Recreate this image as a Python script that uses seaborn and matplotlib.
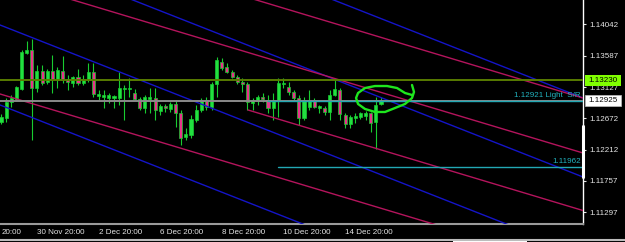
import numpy as np
import pandas as pd
import matplotlib
matplotlib.use("Agg")
import matplotlib.pyplot as plt
import matplotlib.transforms as mtransforms
from matplotlib.patches import Rectangle
from matplotlib.lines import Line2D
import seaborn as sns

# ---------------- data ----------------
opens = [1.12618, 1.12676, 1.12910, 1.12939, 1.13100, 1.13625, 1.13669, 1.13114, 1.13362, 1.13202,
         1.13362, 1.13231, 1.13362, 1.13246, 1.13187, 1.13275, 1.13187, 1.13231, 1.13348, 1.12997,
         1.12983, 1.12968, 1.12968, 1.12968, 1.13100, 1.13100, 1.13041, 1.12954, 1.12822, 1.12954,
         1.12968, 1.12778, 1.12851, 1.12808, 1.12881, 1.12749, 1.12399, 1.12428, 1.12647, 1.12793,
         1.12939, 1.12837, 1.13173, 1.13494, 1.13421, 1.13348, 1.13275, 1.13202, 1.13173, 1.12895,
         1.12924, 1.12983, 1.12939, 1.12822, 1.12924, 1.13173, 1.13129, 1.13056, 1.12968, 1.12676,
         1.12837, 1.12939, 1.12822, 1.12822, 1.12764, 1.13012, 1.13085, 1.12720, 1.12589, 1.12676,
         1.12691, 1.12705, 1.12749, 1.12618, 1.12881]
highs = [1.12735, 1.12968, 1.13012, 1.13143, 1.13669, 1.13800, 1.13830, 1.13450, 1.13450, 1.13392,
         1.13596, 1.13421, 1.13581, 1.13304, 1.13289, 1.13392, 1.13304, 1.13479, 1.13479, 1.13085,
         1.13085, 1.13041, 1.13012, 1.13348, 1.13158, 1.13260, 1.13100, 1.12983, 1.13012, 1.13114,
         1.13114, 1.12881, 1.12881, 1.12910, 1.12939, 1.12793, 1.12530, 1.12720, 1.12866, 1.12968,
         1.12983, 1.13202, 1.13567, 1.13552, 1.13479, 1.13377, 1.13304, 1.13260, 1.13202, 1.12968,
         1.13012, 1.13041, 1.13012, 1.13041, 1.13260, 1.13260, 1.13202, 1.13085, 1.13012, 1.12983,
         1.13085, 1.12968, 1.12866, 1.12851, 1.13085, 1.13260, 1.13114, 1.12749, 1.12720, 1.12749,
         1.12764, 1.12778, 1.12764, 1.12983, 1.12983]
lows = [1.12589, 1.12618, 1.12837, 1.12924, 1.13085, 1.13611, 1.12355, 1.13056, 1.13158, 1.13173,
        1.13041, 1.13114, 1.13187, 1.13085, 1.13129, 1.13158, 1.13158, 1.13202, 1.12983, 1.12939,
        1.12822, 1.12895, 1.12822, 1.12866, 1.12647, 1.12983, 1.12939, 1.12793, 1.12749, 1.12749,
        1.12647, 1.12720, 1.12764, 1.12764, 1.12545, 1.12282, 1.12355, 1.12384, 1.12618, 1.12764,
        1.12793, 1.12793, 1.12983, 1.13377, 1.13333, 1.13260, 1.13173, 1.13056, 1.12793, 1.12793,
        1.12866, 1.12910, 1.12749, 1.12647, 1.12691, 1.13114, 1.13012, 1.12939, 1.12574, 1.12647,
        1.12793, 1.12822, 1.12749, 1.12720, 1.12647, 1.12997, 1.12647, 1.12530, 1.12530, 1.12603,
        1.12662, 1.12647, 1.12472, 1.12224, 1.12866]
closes = [1.12691, 1.12910, 1.12968, 1.13129, 1.13640, 1.13669, 1.13114, 1.13362, 1.13187, 1.13362,
          1.13246, 1.13377, 1.13231, 1.13202, 1.13275, 1.13187, 1.13246, 1.13348, 1.13027, 1.13027,
          1.13012, 1.13012, 1.12997, 1.13114, 1.13114, 1.13114, 1.12954, 1.12822, 1.12983, 1.12983,
          1.12793, 1.12851, 1.12822, 1.12881, 1.12749, 1.12384, 1.12443, 1.12662, 1.12793, 1.12939,
          1.12837, 1.13173, 1.13523, 1.13406, 1.13348, 1.13275, 1.13202, 1.13173, 1.12910, 1.12939,
          1.12983, 1.12954, 1.12822, 1.12939, 1.13187, 1.13187, 1.13056, 1.12968, 1.12676, 1.12939,
          1.12939, 1.12837, 1.12851, 1.12764, 1.13012, 1.13100, 1.12735, 1.12589, 1.12691, 1.12705,
          1.12749, 1.12749, 1.12603, 1.12866, 1.12924]

xtick_idx = [7, 19, 31, 43, 55, 67]
xtick_labels = ["30 Nov 20:00", "2 Dec 20:00", "6 Dec 20:00", "8 Dec 20:00",
                "10 Dec 20:00", "14 Dec 20:00"]
first_label = "20:00"
first_label_idx = 0.2
ytick_vals = [1.14042, 1.13587, 1.13127, 1.12672, 1.12212, 1.11757, 1.11297]

# trend channel lines (bar index, price)
chan_names = ["B", "A", "D", "C", "F", "E", "H", "G"]
chan_kind = ["blue", "blue", "blue", "blue", "crimson", "crimson", "crimson", "crimson"]
chan_x0 = [-1, -1, -1, -1, -1, -1, 48.1, -1]
chan_y0 = [1.16338, 1.15185, 1.14058, 1.12890, 1.15540, 1.14737, 1.12793, 1.13045]
chan_x1 = [115, 115, 115, 115, 115, 115, 115, 115]
chan_y1 = [1.12919, 1.11766, 1.10640, 1.09472, 1.12931, 1.12128, 1.11288, 1.10436]

# horizontal levels
level_price = [1.13230, 1.12925, 1.12921, 1.11962]
level_start = [-1, -1, 52, 54]
level_color = ["#587c00", "#8a8a8a", "#22a8b4", "#22a8b4"]
level_lw = [1.4, 1.4, 1.0, 1.0]

sr_label = "1.12921 Light  S/R"
sr2_label = "1.11962"
olive_box = "1.13230"
bid_box = "1.12925"

# hand drawn highlight loop (bar index, price)
loop_x = [80.04, 80.43, 80.04, 78.68, 76.73, 74.78, 72.83, 70.89, 69.53, 69.14,
          69.53, 70.89, 72.83, 75.17, 77.12, 78.68, 80.04]
loop_y = [1.13158, 1.13056, 1.12968, 1.12881, 1.12822, 1.12764, 1.12764, 1.12808, 1.12881, 1.12968,
          1.13041, 1.13114, 1.13143, 1.13143, 1.13114, 1.13041, 1.13012]

# ---------------- style ----------------
sns.set_style("dark", rc={"axes.facecolor": "black", "figure.facecolor": "black",
                          "axes.grid": False})
plt.rcParams["font.family"] = ["Liberation Sans", "DejaVu Sans"]

W, H = 625, 242
fig = plt.figure(figsize=(W / 100, H / 100), dpi=100)
ax = fig.add_axes([0, 18 / H, 583 / W, 224 / H])
ax.set_facecolor("black")

idx = np.arange(len(opens))
o = np.array(opens); c = np.array(closes); hi = np.array(highs); lo = np.array(lows)
bull = c >= o

wick = "#18cc30"
ax.vlines(idx, lo, hi, color=wick, lw=0.8, zorder=2)
bottom = np.minimum(o, c)
height = np.maximum(np.abs(c - o), 0.00003)
ax.bar(idx[bull], height[bull], bottom=bottom[bull], width=0.6,
       color="#22e040", edgecolor=wick, linewidth=0.5, zorder=3)
ax.bar(idx[~bull], height[~bull], bottom=bottom[~bull], width=0.6,
       color="#e8338a", edgecolor=wick, linewidth=0.5, zorder=3)

# channel lines via seaborn
rows = []
for n, k, x0, y0, x1, y1 in zip(chan_names, chan_kind, chan_x0, chan_y0, chan_x1, chan_y1):
    rows.append({"line": n, "kind": k, "idx": x0, "price": y0})
    rows.append({"line": n, "kind": k, "idx": x1, "price": y1})
df = pd.DataFrame(rows)
sns.lineplot(data=df, x="idx", y="price", units="line", estimator=None, hue="kind",
             palette={"blue": "#1414c8", "crimson": "#b4145c"}, legend=False,
             sort=False, lw=1.0, ax=ax, zorder=4)

# horizontal levels
for p, s, col, lw in zip(level_price, level_start, level_color, level_lw):
    ax.plot([s, 120], [p, p], color=col, lw=lw, zorder=5)

# highlight loop
ax.plot(loop_x, loop_y, color="#1ee61e", lw=1.7, solid_joinstyle="round",
        solid_capstyle="round", zorder=6)

ax.set_xlim(-0.195, 113.34)
ax.set_ylim(1.111285, 1.14399)
ax.set_xlabel(""); ax.set_ylabel("")

# spines
for s in ["top", "left"]:
    ax.spines[s].set_visible(False)
ax.spines["right"].set_color("white"); ax.spines["right"].set_linewidth(1.0)
ax.spines["bottom"].set_color("#9a9a9a"); ax.spines["bottom"].set_linewidth(1.5)

# y ticks on the right
ax.yaxis.tick_right()
ax.set_yticks(ytick_vals)
ax.set_yticklabels([f"{v:.5f}" for v in ytick_vals])
ax.tick_params(axis="y", colors="#e6e6e6", length=2, width=0.8, pad=2.5, labelsize=5.8)

# x ticks
ax.set_xticks(xtick_idx)
ax.set_xticklabels(xtick_labels, ha="left")
ax.tick_params(axis="x", colors="#bdbdbd", length=2, width=0.8, pad=1.5, labelsize=5.8)
for t in ax.get_xticklabels():
    t.set_color("#e6e6e6")
xtr = mtransforms.blended_transform_factory(ax.transData, ax.transAxes)
ax.text(first_label_idx, -(8.0 / 224.0), first_label, transform=xtr, ha="left", va="center",
        fontsize=5.8, color="#e6e6e6")

# right-side labels
ytr = mtransforms.blended_transform_factory(ax.transAxes, ax.transData)
pxy = (1.14399 - 1.111285) / 224.0
pxx = 1.0 / 583.0
for val, txt, fc in [(level_price[0], olive_box, "#80ff00"), (level_price[1], bid_box, "white")]:
    ax.add_patch(Rectangle((1 + 1.5 * pxx, val - 5.5 * pxy), 37 * pxx, 11 * pxy,
                           transform=ytr, facecolor=fc, edgecolor="#c0c0c0" if fc == "white" else "none",
                           lw=0.5, clip_on=False, zorder=10))
    ax.text(1 + 5 * pxx, val, txt, transform=ytr, ha="left", va="center",
            fontsize=5.8, color="black", zorder=11, clip_on=False)

ax.annotate(sr_label, xy=(1.0, level_price[2]), xycoords=ytr, xytext=(-2, 2),
            textcoords="offset pixels", ha="right", va="bottom", fontsize=5.8,
            color="#22b4c0", zorder=7)
ax.annotate(sr2_label, xy=(1.0, level_price[3]), xycoords=ytr, xytext=(-2, 2),
            textcoords="offset pixels", ha="right", va="bottom", fontsize=5.8,
            color="#22b4c0", zorder=7)

# thicker white segment on the price scale
ax.plot([1.0, 1.0], [1.12559, 1.11815], transform=ytr, color="white", lw=2.2,
        clip_on=False, zorder=9)

# window frame strip at the bottom
fig.add_artist(Line2D([0, 1], [2 / H, 2 / H], transform=fig.transFigure,
                      color="#bcbcbc", lw=1.5))
fig.add_artist(Rectangle((453 / W, 0), 74 / W, 3 / H, transform=fig.transFigure,
                         facecolor="white", edgecolor="none"))

fig.savefig("out.png", dpi=100, facecolor="black")
